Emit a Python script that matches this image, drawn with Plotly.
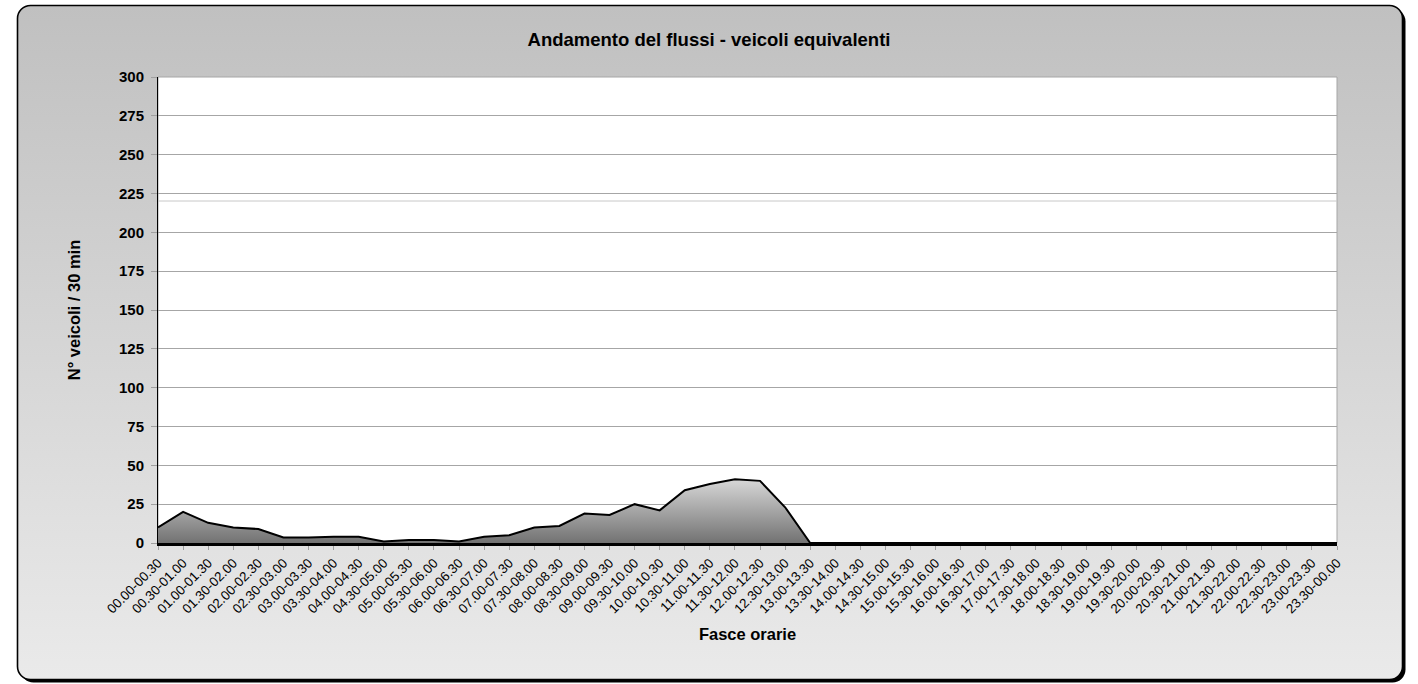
import base64
import plotly.graph_objects as go

# ---- data -------------------------------------------------------------
fasce = [
    "00.00-00.30", "00.30-01.00", "01.00-01.30", "01.30-02.00", "02.00-02.30", "02.30-03.00",
    "03.00-03.30", "03.30-04.00", "04.00-04.30", "04.30-05.00", "05.00-05.30", "05.30-06.00",
    "06.00-06.30", "06.30-07.00", "07.00-07.30", "07.30-08.00", "08.00-08.30", "08.30-09.00",
    "09.00-09.30", "09.30-10.00", "10.00-10.30", "10.30-11.00", "11.00-11.30", "11.30-12.00",
    "12.00-12.30", "12.30-13.00", "13.00-13.30", "13.30-14.00", "14.00-14.30", "14.30-15.00",
    "15.00-15.30", "15.30-16.00", "16.00-16.30", "16.30-17.00", "17.00-17.30", "17.30-18.00",
    "18.00-18.30", "18.30-19.00", "19.00-19.30", "19.30-20.00", "20.00-20.30", "20.30-21.00",
    "21.00-21.30", "21.30-22.00", "22.00-22.30", "22.30-23.00", "23.00-23.30", "23.30-00.00",
]
veicoli_equivalenti = [
    10, 20, 13, 10, 9, 3.5, 3.5, 4, 4, 1, 2, 2,
    1, 4, 5, 10, 11, 19, 18, 25, 21, 34, 38, 41,
    40, 23, 0, 0, 0, 0, 0, 0, 0, 0, 0, 0,
    0, 0, 0, 0, 0, 0, 0, 0, 0, 0, 0, 0,
]
y_ticks = [0, 25, 50, 75, 100, 125, 150, 175, 200, 225, 250, 275, 300]

# ---- geometry ---------------------------------------------------------
W, H = 1418, 684
ML, MR, MT, MB = 158, 81, 77, 141
PW, PH = W - ML - MR, H - MT - MB
FONT = "Liberation Sans, Arial, sans-serif"

# rounded, gradient-filled chart frame with a drop shadow (SVG background)
svg = f"""<svg xmlns='http://www.w3.org/2000/svg' width='{W}' height='{H}' viewBox='0 0 {W} {H}' preserveAspectRatio='none'>
<defs><linearGradient id='g' x1='0' y1='0' x2='0' y2='1'>
<stop offset='0' stop-color='#c0c0c0'/><stop offset='1' stop-color='#eaeaea'/></linearGradient></defs>
<rect x='20.5' y='8.5' width='1385' height='674' rx='13' ry='13' fill='#000000'/>
<rect x='17.5' y='5.5' width='1385' height='674' rx='13' ry='13' fill='url(#g)' stroke='#000000' stroke-width='1.6'/>
</svg>"""
bg_src = "data:image/svg+xml;base64," + base64.b64encode(svg.encode()).decode()

fig = go.Figure()
fig.add_trace(go.Scatter(
    x=fasce,
    y=veicoli_equivalenti,
    mode="lines",
    line=dict(color="#000000", width=2),
    fill="tozeroy",
    fillgradient=dict(
        type="vertical",
        start=0,
        stop=42,
        colorscale=[[0, "#727272"], [1, "#dadada"]],
    ),
    hoverinfo="x+y",
    showlegend=False,
))

fig.update_layout(
    width=W,
    height=H,
    autosize=False,
    margin=dict(l=ML, r=MR, t=MT, b=MB, pad=0),
    paper_bgcolor="#ffffff",
    plot_bgcolor="rgba(0,0,0,0)",
    font=dict(family=FONT, color="#000000"),
    title=dict(
        text="Andamento del flussi - veicoli equivalenti",
        font=dict(family=FONT, size=18.5, weight="bold", color="#000000"),
        x=0.5, xref="container", xanchor="center",
        y=1 - 40 / H, yref="container", yanchor="middle",
    ),
    xaxis=dict(
        type="category",
        range=[0, len(fasce) - 1],
        tickangle=-45,
        tickfont=dict(family=FONT, size=13.3, color="#000000"),
        ticks="outside",
        ticklen=4,
        tickcolor="#a0a0a0",
        showgrid=False,
        showline=True,
        linecolor="#000000",
        linewidth=3,
        zeroline=False,
        automargin=False,
        title=dict(
            text="Fasce orarie",
            font=dict(family=FONT, size=16.5, weight="bold", color="#000000"),
            standoff=14,
        ),
    ),
    yaxis=dict(
        range=[0, 300],
        tickmode="array",
        tickvals=y_ticks,
        ticktext=[str(v) for v in y_ticks],
        tickfont=dict(family=FONT, size=15, weight="bold", color="#000000"),
        ticks="outside",
        ticklen=6,
        tickcolor="#a0a0a0",
        ticklabelstandoff=4,
        showgrid=True,
        gridcolor="#a6a6a6",
        gridwidth=1,
        showline=True,
        linecolor="#000000",
        linewidth=1,
        zeroline=False,
        automargin=False,
        title=dict(
            text="N° veicoli / 30 min",
            font=dict(family=FONT, size=16.5, weight="bold", color="#000000"),
            standoff=34,
        ),
    ),
    images=[dict(
        source=bg_src,
        xref="paper", yref="paper",
        x=-ML / PW, y=1 + MT / PH,
        sizex=W / PW, sizey=H / PH,
        xanchor="left", yanchor="top",
        sizing="stretch",
        layer="below",
    )],
    shapes=[
        # white plot area with a thin grey border
        dict(type="rect", xref="paper", yref="paper", x0=0, x1=1, y0=0, y1=1,
             fillcolor="#ffffff", line=dict(color="#a6a6a6", width=1), layer="below"),
        # faint seam line visible in the original image
        dict(type="line", xref="paper", yref="paper", x0=-5 / PW, x1=1,
             y0=(H - MB - 201) / PH, y1=(H - MB - 201) / PH,
             line=dict(color="#c8c8c8", width=1), layer="below"),
    ],
)

fig.write_html(
    "out.html",
    config={"displayModeBar": False},
    post_script="document.body.style.margin='0';document.body.style.overflow='hidden';",
)
